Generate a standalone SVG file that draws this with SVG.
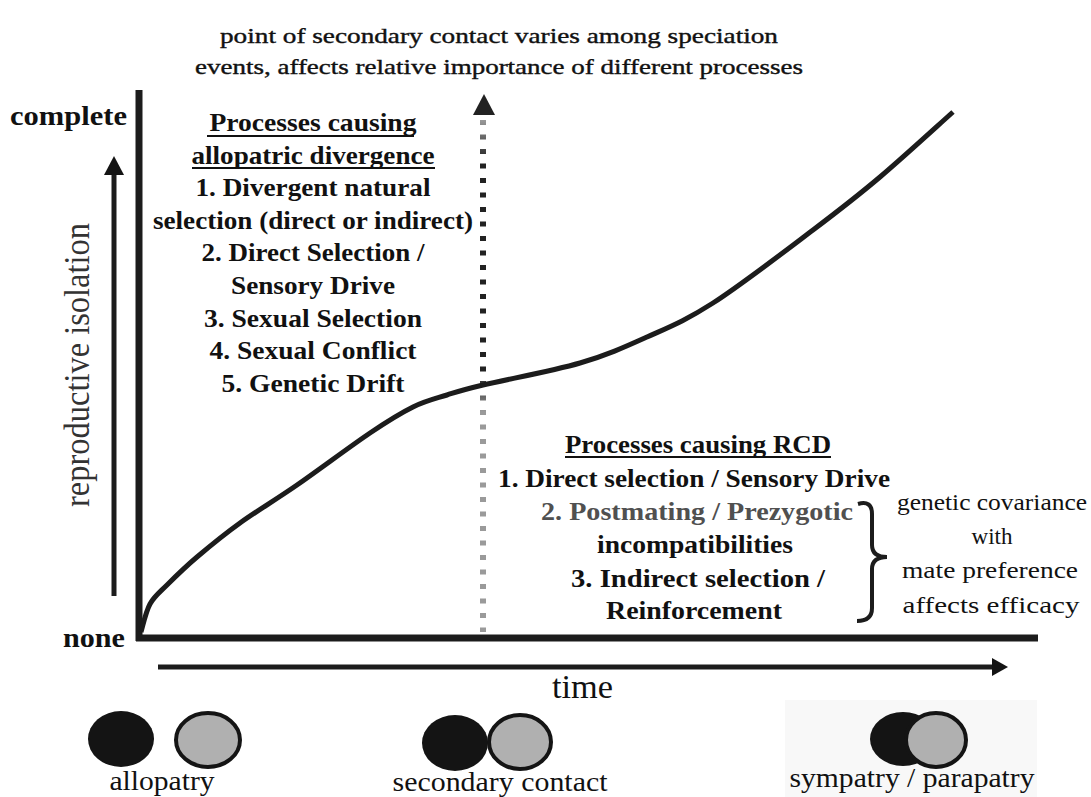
<svg xmlns="http://www.w3.org/2000/svg" width="1091" height="797" viewBox="0 0 1091 797">
  <defs>
    <style>
      .ax { stroke: #1c1c1c; stroke-linecap: butt; fill: none; }
      .ul { stroke: #111; stroke-width: 2; }
      .dark { fill: #141414; }
      .grey { fill: #b0b0b0; stroke: #141414; stroke-width: 4; }
    </style>
    <linearGradient id="dotShade" gradientUnits="userSpaceOnUse" x1="0" y1="120" x2="0" y2="632">
      <stop offset="0" stop-color="#9a9a9a"/>
      <stop offset="0.08" stop-color="#222"/>
      <stop offset="0.5" stop-color="#222"/>
      <stop offset="0.57" stop-color="#9a9a9a"/>
      <stop offset="1" stop-color="#9a9a9a"/>
    </linearGradient>
  </defs>

  <rect width="1091" height="797" fill="#fff"/>

  <!-- heading -->
  <g id="title" font-family="Liberation Serif, serif" font-size="22" fill="#111" text-anchor="middle">
    <text x="499" y="43" stroke="#111" stroke-width="0.4" textLength="558" lengthAdjust="spacingAndGlyphs">point of secondary contact varies among speciation</text>
    <text x="499" y="74" stroke="#111" stroke-width="0.4" textLength="608" lengthAdjust="spacingAndGlyphs">events, affects relative importance of different processes</text>
  </g>

  <!-- axis labels -->
  <g id="y-labels" font-family="Liberation Serif, serif" fill="#111">
    <text x="10" y="125" font-size="27" font-weight="bold" textLength="117" lengthAdjust="spacingAndGlyphs">complete</text>
    <text x="63" y="647" font-size="27" font-weight="bold" textLength="62" lengthAdjust="spacingAndGlyphs">none</text>
    <text transform="translate(89,365) scale(1.1,1) rotate(-90)" text-anchor="middle" font-size="33" fill="#333" textLength="284" lengthAdjust="spacingAndGlyphs">reproductive isolation</text>
  </g>
  <g id="x-label" font-family="Liberation Serif, serif" fill="#111">
    <text x="552" y="698" font-size="34" textLength="61" lengthAdjust="spacingAndGlyphs">time</text>
  </g>

  <!-- axes, arrows and the divergence curve -->
  <g id="connectors">
    <line class="ax" x1="139" y1="90" x2="139" y2="641" stroke-width="7"/>
    <line class="ax" x1="136" y1="638" x2="1038" y2="638" stroke-width="7"/>
    <line class="ax" x1="114" y1="596" x2="114" y2="170" stroke-width="5"/>
    <polygon class="dark" points="114,156 104,175 124,175"/>
    <line class="ax" x1="158" y1="667" x2="995" y2="667" stroke-width="5"/>
    <polygon class="dark" points="1008,667 992,658 992,676"/>
    <line x1="483" y1="120" x2="483" y2="632" stroke="url(#dotShade)" stroke-width="6" stroke-dasharray="5 9.5"/>
    <polygon fill="#222" points="484,94 473,115 495,115"/>
    <path id="curve" class="ax" stroke-width="5" stroke-linejoin="round"
      d="M141,632 C142.5,627.3 145.7,611.8 150,604 C154.3,596.2 159.2,592.8 167,585 C174.8,577.2 184.8,567.3 197,557 C209.2,546.7 223.3,535 240,523 C256.7,511 275.3,500 297,485 C318.7,470 350.7,446 370,433 C389.3,420 400.2,413.3 413,407 C425.8,400.7 435.3,398.7 447,395 C458.7,391.3 460.8,390.3 483,385 C505.2,379.7 552.7,371 580,363 C607.3,355 624.8,347 647,337 C669.2,327 685.3,320.8 713,303 C740.7,285.2 785.2,251 813,230 C840.8,209 856.7,196.7 880,177 C903.3,157.3 940.8,122.8 953,112"/>
    <path id="brace" class="ax" stroke-width="4" d="M858,504 Q872,500 872,514 L872,545 Q872,557 887,557 Q872,557 872,569 L872,608 Q872,621 857,621"/>
  </g>

  <!-- allopatric processes -->
  <g id="allopatric-processes" font-family="Liberation Serif, serif" font-weight="bold" font-size="25" fill="#111" text-anchor="middle">
    <text x="313" y="131" textLength="207" lengthAdjust="spacingAndGlyphs">Processes causing</text>
    <line class="ul" x1="207" y1="136" x2="414" y2="136"/>
    <text x="313" y="164" textLength="243" lengthAdjust="spacingAndGlyphs">allopatric divergence</text>
    <line class="ul" x1="192" y1="168" x2="435" y2="168"/>
    <text x="313" y="196" textLength="235" lengthAdjust="spacingAndGlyphs">1. Divergent natural</text>
    <text x="313" y="229" textLength="320" lengthAdjust="spacingAndGlyphs">selection (direct or indirect)</text>
    <text x="313" y="261" textLength="223" lengthAdjust="spacingAndGlyphs">2. Direct Selection /</text>
    <text x="313" y="294" textLength="164" lengthAdjust="spacingAndGlyphs">Sensory Drive</text>
    <text x="313" y="327" textLength="218" lengthAdjust="spacingAndGlyphs">3. Sexual Selection</text>
    <text x="313" y="359" textLength="207" lengthAdjust="spacingAndGlyphs">4. Sexual Conflict</text>
    <text x="313" y="392" textLength="183" lengthAdjust="spacingAndGlyphs">5. Genetic Drift</text>
  </g>

  <!-- RCD processes -->
  <g id="rcd-processes" font-family="Liberation Serif, serif" font-weight="bold" font-size="25" fill="#111" text-anchor="middle">
    <text x="698" y="453" textLength="266" lengthAdjust="spacingAndGlyphs">Processes causing RCD</text>
    <line class="ul" x1="565" y1="457" x2="831" y2="457"/>
    <text x="694" y="487" textLength="392" lengthAdjust="spacingAndGlyphs">1. Direct selection / Sensory Drive</text>
    <text x="697" y="520" textLength="312" lengthAdjust="spacingAndGlyphs" fill="#505050">2. Postmating / Prezygotic</text>
    <text x="695" y="553" textLength="196" lengthAdjust="spacingAndGlyphs">incompatibilities</text>
    <text x="698" y="587" textLength="254" lengthAdjust="spacingAndGlyphs">3. Indirect selection /</text>
    <text x="694" y="619" textLength="176" lengthAdjust="spacingAndGlyphs">Reinforcement</text>
  </g>

  <!-- note on genetic covariance -->
  <g id="covariance-note" font-family="Liberation Serif, serif" font-size="23" fill="#111" text-anchor="middle">
    <text x="992" y="510" textLength="190" lengthAdjust="spacingAndGlyphs">genetic covariance</text>
    <text x="992" y="544">with</text>
    <text x="990" y="578" textLength="176" lengthAdjust="spacingAndGlyphs">mate preference</text>
    <text x="991" y="613" textLength="177" lengthAdjust="spacingAndGlyphs">affects efficacy</text>
  </g>

  <!-- range diagrams -->
  <g id="allopatry" font-family="Liberation Serif, serif" font-size="27" fill="#111" text-anchor="middle">
    <ellipse class="dark" cx="121" cy="739" rx="33" ry="28"/>
    <ellipse class="grey" cx="208" cy="740" rx="32" ry="27"/>
    <text x="162" y="790" textLength="105" lengthAdjust="spacingAndGlyphs">allopatry</text>
  </g>
  <g id="secondary-contact" font-family="Liberation Serif, serif" font-size="27" fill="#111" text-anchor="middle">
    <ellipse class="dark" cx="455" cy="743" rx="33" ry="28"/>
    <ellipse class="grey" cx="520" cy="742" rx="31" ry="27"/>
    <text x="500" y="791" textLength="215" lengthAdjust="spacingAndGlyphs">secondary contact</text>
  </g>
  <g id="sympatry" font-family="Liberation Serif, serif" font-size="27" fill="#111" text-anchor="middle">
    <rect x="785" y="700" width="252" height="97" fill="#f8f8f8"/>
    <ellipse class="dark" cx="903" cy="739" rx="33" ry="27"/>
    <ellipse class="grey" cx="936" cy="740" rx="30" ry="27"/>
    <text x="912" y="787" textLength="245" lengthAdjust="spacingAndGlyphs">sympatry / parapatry</text>
  </g>
</svg>
